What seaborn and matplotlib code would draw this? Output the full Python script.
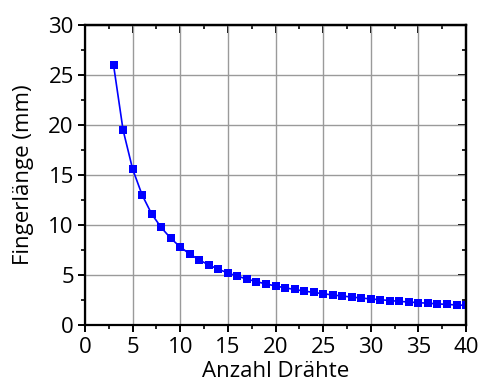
import matplotlib
matplotlib.use("Agg")
import matplotlib.pyplot as plt
import seaborn as sns
import pandas as pd
from matplotlib.ticker import MultipleLocator

anzahl_draehte = list(range(3, 41))
fingerlaenge = [26.0, 19.5, 15.6, 13.0, 11.1, 9.75, 8.67, 7.8, 7.09, 6.5,
                6.0, 5.57, 5.2, 4.88, 4.59, 4.33, 4.1, 3.9, 3.71, 3.55,
                3.39, 3.25, 3.12, 3.0, 2.89, 2.79, 2.69, 2.6, 2.52, 2.44,
                2.36, 2.29, 2.23, 2.17, 2.11, 2.05, 2.0, 1.95]

df = pd.DataFrame({"x": anzahl_draehte, "y": fingerlaenge})

sns.set_style("white")
plt.rcParams['font.family'] = ['Open Sans', 'DejaVu Sans']
plt.rcParams['text.color'] = 'black'
plt.rcParams['axes.labelcolor'] = 'black'
plt.rcParams['xtick.color'] = 'black'
plt.rcParams['ytick.color'] = 'black'

fig = plt.figure(figsize=(4.8, 3.85), dpi=100)
ax = fig.add_axes([0.177, 0.156, 0.794, 0.779])

sns.lineplot(data=df, x="x", y="y", ax=ax, color="#0000ff", marker="s",
             markersize=5.2, markeredgewidth=0, linewidth=1.2)

ax.set_xlim(0, 40)
ax.set_ylim(0, 30)
ax.xaxis.set_major_locator(MultipleLocator(5))
ax.xaxis.set_minor_locator(MultipleLocator(2.5))
ax.yaxis.set_major_locator(MultipleLocator(5))
ax.yaxis.set_minor_locator(MultipleLocator(2.5))
ax.grid(True, which="major", color="#9a9a9a", linewidth=1.0)
ax.set_axisbelow(True)

for s in ax.spines.values():
    s.set_color("black")
    s.set_linewidth(1.6)

ax.tick_params(which="both", direction="out", top=False, right=False,
               bottom=True, left=True, colors="black", labelcolor="black",
               labelsize=16)
ax.tick_params(axis="x", which="major", pad=4)
ax.tick_params(axis="y", which="major", pad=3)
ax.tick_params(which="major", length=5, width=1.4)
ax.tick_params(which="minor", length=3, width=1.2)

# inward ticks on top and right
ax2 = ax.secondary_xaxis("top")
ax2.xaxis.set_major_locator(MultipleLocator(5))
ax2.xaxis.set_minor_locator(MultipleLocator(2.5))
ax2.tick_params(which="both", direction="in", labeltop=False, colors="black")
ax2.tick_params(which="major", length=5.5, width=1.4)
ax2.tick_params(which="minor", length=3, width=1.2)
ax2.spines["top"].set_linewidth(1.6)
ax2.spines["top"].set_color("black")
ax3 = ax.secondary_yaxis("right")
ax3.yaxis.set_major_locator(MultipleLocator(5))
ax3.yaxis.set_minor_locator(MultipleLocator(2.5))
ax3.tick_params(which="both", direction="in", labelright=False, colors="black")
ax3.tick_params(which="major", length=5.5, width=1.4)
ax3.tick_params(which="minor", length=3, width=1.2)
ax3.spines["right"].set_linewidth(1.6)
ax3.spines["right"].set_color("black")

ax.set_xlabel("Anzahl Drähte", fontsize=16, labelpad=2, color="black")
ax.set_ylabel("Fingerlänge (mm)", fontsize=16, labelpad=10, color="black")

fig.savefig("out.png", dpi=100)
